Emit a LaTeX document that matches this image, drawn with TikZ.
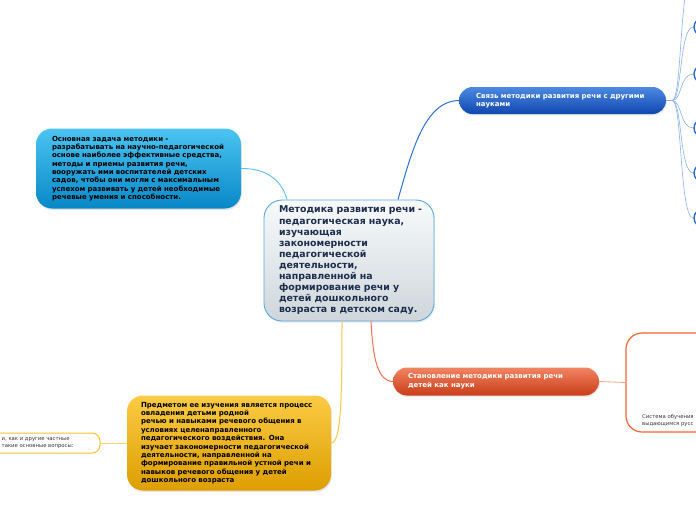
\documentclass[tikz,border=0pt]{standalone}
\usepackage{fontspec}
\setmainfont{DejaVu Sans}
\usetikzlibrary{shadows,calc}
\definecolor{navy}{HTML}{1C2C4C}
\definecolor{cline}{HTML}{5BC0EE}
\definecolor{bline}{HTML}{2A70D0}
\definecolor{bfan}{HTML}{8AB0EA}
\definecolor{yline}{HTML}{F8C840}
\definecolor{oline}{HTML}{F07050}
\definecolor{olight}{HTML}{F8A080}
\definecolor{ylight}{HTML}{F8D070}
\definecolor{cborder}{HTML}{5AA8E0}
\definecolor{cTop}{HTML}{F8FAFB}
\definecolor{cBot}{HTML}{CED6DB}
\definecolor{fanc}{HTML}{2060D0}
\definecolor{gtext}{HTML}{333333}
\definecolor{cyanT}{HTML}{4CC4F2}
\definecolor{cyanM}{HTML}{1FA6E0}
\definecolor{cyanB}{HTML}{0788C6}
\definecolor{blueT}{HTML}{4C8AE2}
\definecolor{blueB}{HTML}{1046AE}
\definecolor{oraT}{HTML}{F38463}
\definecolor{oraB}{HTML}{C83C18}
\definecolor{yelT}{HTML}{FBCB45}
\definecolor{yelM}{HTML}{F2B420}
\definecolor{yelB}{HTML}{DD9E00}
\definecolor{osub}{HTML}{F26433}
\definecolor{ysub}{HTML}{F7C12A}
\tikzset{
  soft/.style={drop shadow={opacity=0.18,shadow xshift=0.8pt,shadow yshift=-1.6pt}},
  topicbox/.style={soft,rounded corners=#1,align=left,inner sep=0pt},
  centralbox/.style={topicbox=18pt,draw=cborder,line width=0.9pt,
     top color=cTop,bottom color=cBot,
     minimum width=170pt,minimum height=121pt,text width=140pt,
     text=navy,font=\fontsize{9.4}{11.1}\selectfont\bfseries},
  cyanbox/.style={topicbox=16pt,top color=cyanT,middle color=cyanM,bottom color=cyanB,
     minimum width=205pt,minimum height=80pt,text width=173pt,
     font=\fontsize{7}{8.3}\selectfont\bfseries},
  bluebox/.style={topicbox=13.5pt,top color=blueT,bottom color=blueB,
     minimum width=207pt,minimum height=27pt,text width=173pt,text=white,
     font=\fontsize{7}{8.5}\selectfont\bfseries},
  orangebox/.style={topicbox=14pt,top color=oraT,bottom color=oraB,
     minimum width=206pt,minimum height=28pt,text width=176pt,text=white,
     font=\fontsize{7}{8.7}\selectfont\bfseries},
  yellowbox/.style={topicbox=16pt,top color=yelT,middle color=yelM,bottom color=yelB,
     minimum width=204pt,minimum height=95pt,text width=176pt,
     font=\fontsize{7}{8.37}\selectfont\bfseries},
  subbox/.style={draw=#1,fill=white,line width=1.2pt,inner sep=0pt},
  fancircle/.style={circle,draw=fanc,fill=white,line width=1.3pt,minimum size=18pt,inner sep=0pt},
  smalltext/.style={align=left,inner sep=0pt,font=\fontsize{5.3}{7.4}\selectfont,text=gtext},
}
\begin{document}
\begin{tikzpicture}[x=1pt,y=-1pt]
\useasboundingbox (0,0) rectangle (696,520);

\node[centralbox] (C) at (349,260.5) {\mbox{Методика развития речи -}\\педагогическая наука,\\изучающая\\закономерности\\педагогической\\деятельности,\\направленной на\\формирование речи у\\детей дошкольного\\\mbox{возраста в детском саду.}};

\node[cyanbox] (L) at (138.5,168.5) {Основная задача методики -\\разрабатывать на научно-педагогической\\основе наиболее эффективные средства,\\методы и приемы развития речи,\\вооружать ими воспитателей детских\\садов, чтобы они могли с максимальным\\успехом развивать у детей необходимые\\речевые умения и способности.};

\node[bluebox] (B) at (562.5,100.5) {Связь методики развития речи с другими\\науками};

\node[orangebox] (O) at (496,381.5) {Становление методики развития речи\\детей как науки};

\node[yellowbox] (Y) at (229,443) {Предметом ее изучения является процесс\\овладения детьми родной\\речью и навыками речевого общения в\\условиях целенаправленного\\педагогического воздействия. Она\\изучает закономерности педагогической\\деятельности, направленной на\\формирование правильной устной речи и\\навыков речевого общения у детей\\дошкольного возраста};

% sub nodes cut by the page edge
\node[subbox=osub,rounded corners=16pt,minimum width=150pt,minimum height=99pt] (OS) at (701,382.5) {};
\node[smalltext,anchor=west] (OST) at (642,420.5) {Система обучения\\выдающимся русс};

\node[subbox=ysub,rounded corners=8pt,minimum width=200pt,minimum height=20pt,line width=1pt] (YS) at (0,443) {};
\node[smalltext,anchor=west] (YST) at (1.5,443) {и, как и другие частные\\такие основные вопросы:};

% fan circles
\node[fancircle] (k0) at (703,-26) {};
\node[fancircle] (k1) at (703,27) {};
\node[fancircle] (k2) at (703,74) {};
\node[fancircle] (k3) at (703,128) {};
\node[fancircle] (k4) at (703,173) {};
\node[fancircle] (k5) at (703,218) {};

% main connectors
\draw[cline,line width=0.9pt] (L.east) .. controls (270,168) and (283,184) .. ([xshift=-62pt]C.north);
\draw[bline,line width=1pt] ([xshift=49pt]C.north) .. controls (412,150) and (425,101) .. (B.west);
\draw[yline,line width=1pt] ([xshift=-7pt]C.south) .. controls (342,400) and (341,443) .. (Y.east);
\draw[oline,line width=1pt] ([xshift=22pt]C.south) .. controls (373,360) and (378,381) .. (O.west);
\draw[olight,line width=0.8pt] (O.east) -- (OS.west);
\draw[ylight,line width=0.8pt] (Y.west) -- (YS.east);
\foreach \k in {k0,k1,k2,k3,k4,k5}{
  \draw[bfan,line width=0.6pt] (B.east) -- ++(6,0) coordinate (hub)
     .. controls ($(hub)+(10,0)$) and ($(\k.west)+(-14,0)$) .. (\k.west);
}
\end{tikzpicture}
\end{document}
